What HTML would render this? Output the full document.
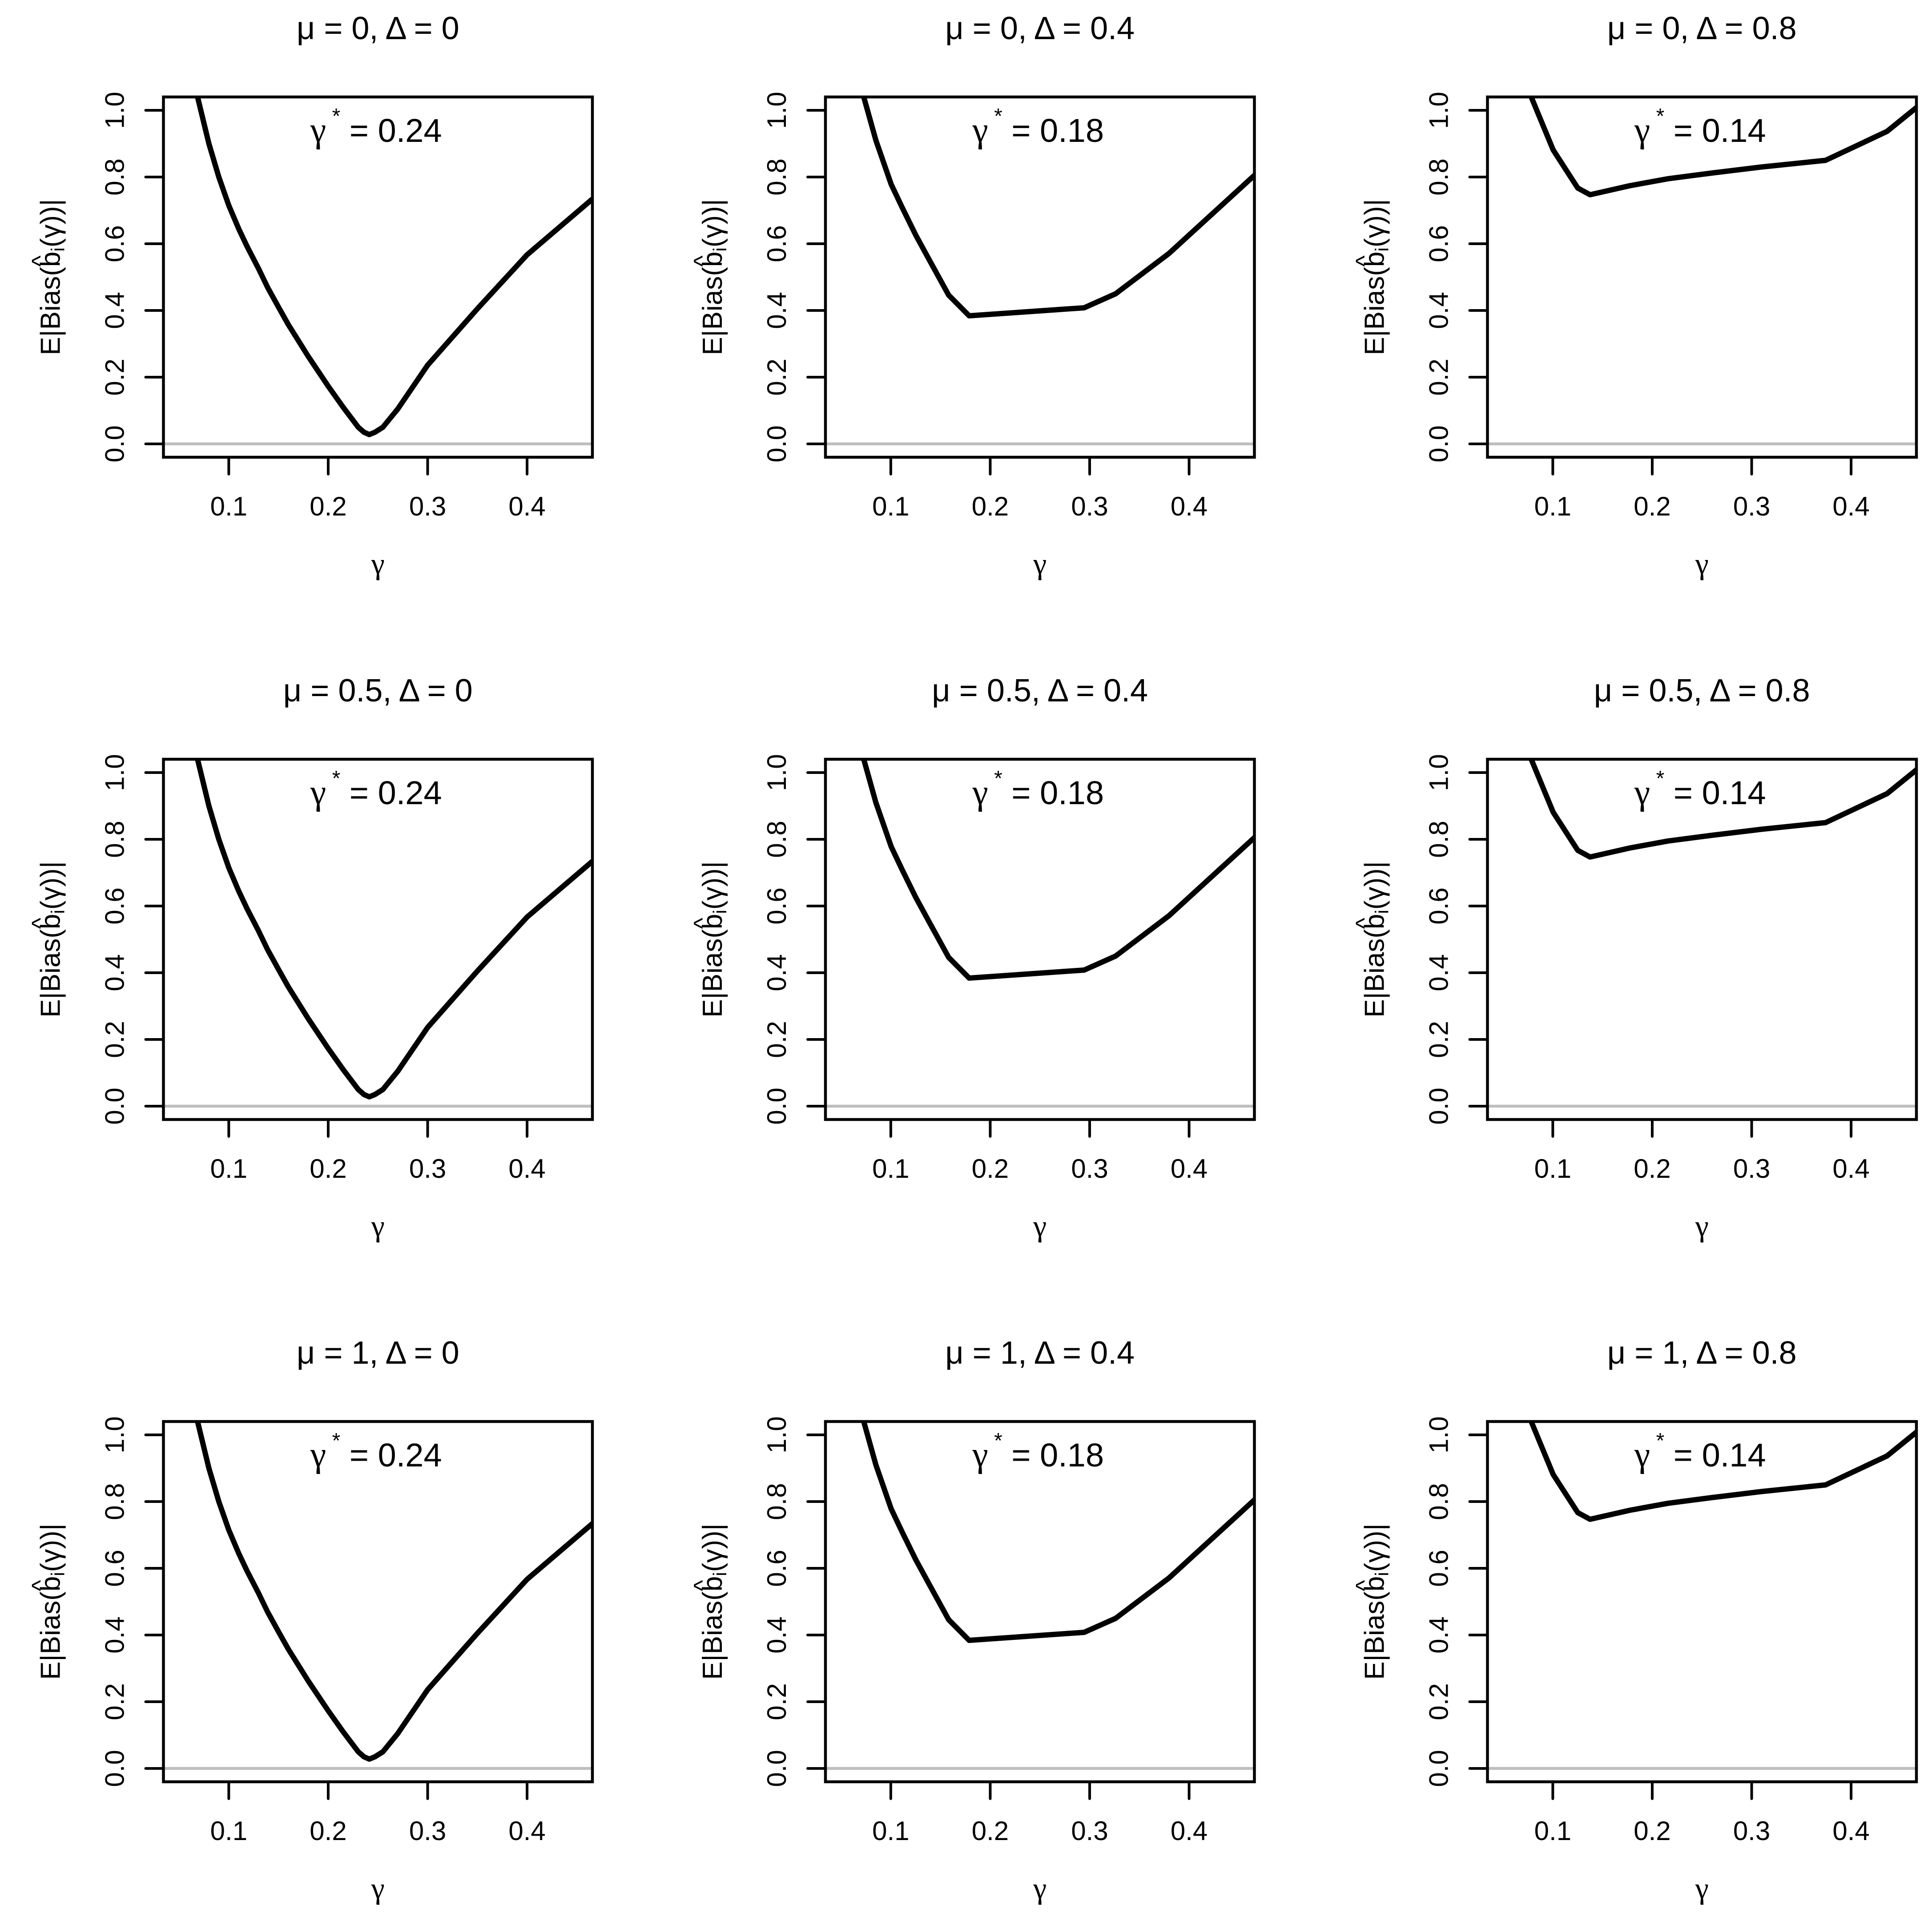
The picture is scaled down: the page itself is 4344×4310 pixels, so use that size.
<!DOCTYPE html>
<html><head><meta charset="utf-8">
<style>
html,body{margin:0;padding:0;background:#fff;}
svg{display:block;}
text{font-family:"Liberation Sans",sans-serif;fill:#000;}
.serif{font-family:"Liberation Serif",serif;}
</style></head>
<body>
<svg id="chart" xmlns="http://www.w3.org/2000/svg" width="4344" height="4310" viewBox="0 0 4344 4310">
<rect width="4344" height="4310" fill="#fff"/>
</svg>
<script>
// data
const muValues = ["0", "0.5", "1"];
const deltaValues = ["0", "0.4", "0.8"];
const gammaStar = ["0.24", "0.18", "0.14"];
const xTicks = [0.1, 0.2, 0.3, 0.4];
const xTickLabels = ["0.1", "0.2", "0.3", "0.4"];
const yTicks = [0, 0.2, 0.4, 0.6, 0.8, 1.0];
const yTickLabels = ["0.0", "0.2", "0.4", "0.6", "0.8", "1.0"];
const gammaD0 = [0.0686, 0.08, 0.09, 0.1, 0.11, 0.1184, 0.13, 0.1391, 0.15, 0.1598, 0.18, 0.2, 0.215, 0.2302, 0.236, 0.2413, 0.247, 0.255, 0.27, 0.3, 0.35, 0.4, 0.4657];
const biasD0 = [1.04, 0.90, 0.80, 0.715, 0.645, 0.592, 0.525, 0.469, 0.41, 0.358, 0.262, 0.173, 0.110, 0.050, 0.035, 0.028, 0.035, 0.050, 0.105, 0.236, 0.405, 0.567, 0.734];
const gammaD04 = [0.0728, 0.085, 0.1004, 0.1114, 0.1251, 0.139, 0.1582, 0.1788, 0.2945, 0.3261, 0.3798, 0.466];
const biasD04 = [1.04, 0.91, 0.778, 0.709, 0.626, 0.550, 0.446, 0.384, 0.408, 0.450, 0.571, 0.806];
const gammaD08 = [0.0783, 0.1004, 0.1251, 0.1375, 0.1775, 0.216, 0.26, 0.3096, 0.3743, 0.4362, 0.466];
const biasD08 = [1.04, 0.881, 0.767, 0.747, 0.774, 0.795, 0.812, 0.830, 0.850, 0.937, 1.009];

const seriesX = [gammaD0, gammaD04, gammaD08];
const seriesY = [biasD0, biasD04, biasD08];

const NS = "http://www.w3.org/2000/svg";
const svg = document.getElementById("chart");
const X0 = 367.5, Y0 = 218, W = 964.5, H = 810, DX = 1488.5, DY = 1489;
const xMin = 0.0343, xMax = 0.4657, yMin = -0.04, yMax = 1.04;

function mk(tag, attrs, parent) {
  const e = document.createElementNS(NS, tag);
  for (const k in attrs) e.setAttribute(k, attrs[k]);
  (parent || svg).appendChild(e);
  return e;
}

for (let r = 0; r < 3; r++) {
  for (let c = 0; c < 3; c++) {
    const L = X0 + c * DX, T = Y0 + r * DY;
    const sx = v => L + (v - xMin) / (xMax - xMin) * W;
    const sy = v => T + H - (v - yMin) / (yMax - yMin) * H;
    const g = mk("g", {});
    
    
    const cid = "clip" + r + c;
    const cp = mk("clipPath", {id: cid}, g);
    mk("rect", {x: L, y: T, width: W, height: H}, cp);

    // title
    const t = mk("text", {x: L + W / 2, y: T - 130, "font-size": 72, "text-anchor": "middle"}, g);
    t.textContent = "\u03bc = " + muValues[r] + ",  \u0394 = " + deltaValues[c];
    
    

    // zero reference line
    const zl = mk("line", {x1: L, x2: L + W, y1: sy(0), y2: sy(0), stroke: "#bebebe", "stroke-width": 6.5, "clip-path": "url(#" + cid + ")"}, g);
    
    

    // curve
    const xs = seriesX[c], ys = seriesY[c];
    let d = "";
    for (let i = 0; i < xs.length; i++) d += (i ? "L" : "M") + sx(xs[i]).toFixed(1) + "," + sy(ys[i]).toFixed(1);
    const p = mk("path", {d: d, fill: "none", stroke: "#000", "stroke-width": 12, "stroke-linejoin": "round", "clip-path": "url(#" + cid + ")"}, g);
    
    

    // box
    const b = mk("rect", {x: L, y: T, width: W, height: H, fill: "none", stroke: "#000", "stroke-width": 6.5}, g);
    
    

    // x ticks
    for (let i = 0; i < xTicks.length; i++) {
      const x = sx(xTicks[i]);
      const tk = mk("line", {x1: x, x2: x, y1: T + H, y2: T + H + 38, stroke: "#000", "stroke-width": 6, "stroke-linecap": "round"}, g);
      
      
      const tl = mk("text", {x: x, y: T + H + 131, "font-size": 60, "text-anchor": "middle"}, g);
      tl.textContent = xTickLabels[i];
      
      
    }
    // y ticks
    for (let i = 0; i < yTicks.length; i++) {
      const y = sy(yTicks[i]);
      const tk = mk("line", {x1: L - 40, x2: L, y1: y, y2: y, stroke: "#000", "stroke-width": 6, "stroke-linecap": "round"}, g);
      
      
      const tl = mk("text", {x: 0, y: 0, "font-size": 60, "text-anchor": "middle", transform: "translate(" + (L - 89) + "," + y + ") rotate(-90)"}, g);
      tl.textContent = yTickLabels[i];
      
      
    }
    // x axis title
    const xt = mk("text", {x: L + W / 2, y: T + H + 262, "font-size": 68, "text-anchor": "middle", "class": "serif"}, g);
    xt.textContent = "\u03b3";
    
    

    // y axis title
    const yg = mk("g", {transform: "translate(" + (L - 233) + "," + (T + H / 2) + ") rotate(-90)"}, g);
    
    
    const yt = mk("text", {x: 0, y: 0, "font-size": 62, "text-anchor": "middle"}, yg);
    yt.appendChild(document.createTextNode("E|Bias(b"));
    const sub = mk("tspan", {"font-size": 42, dy: 10}, yt);
    sub.textContent = "i";
    const rest = mk("tspan", {dy: -10}, yt);
    rest.textContent = "(\u03b3))|";
    const hat = mk("text", {x: 36, y: -26, "font-size": 54, "text-anchor": "middle"}, yg);
    hat.textContent = "^";

    // annotation
    const an = mk("text", {x: L + W / 2 - 4, y: T + 101, "font-size": 74, "text-anchor": "middle"}, g);
    
    
    const gm = mk("tspan", {"class": "serif", "font-size": 80}, an);
    gm.textContent = "\u03b3";
    const st = mk("tspan", {"font-size": 48, dy: -42}, an);
    st.textContent = " *";
    const eq = mk("tspan", {dy: 42}, an);
    eq.textContent = "  = " + gammaStar[c];
  }
}
</script>
</body></html>
